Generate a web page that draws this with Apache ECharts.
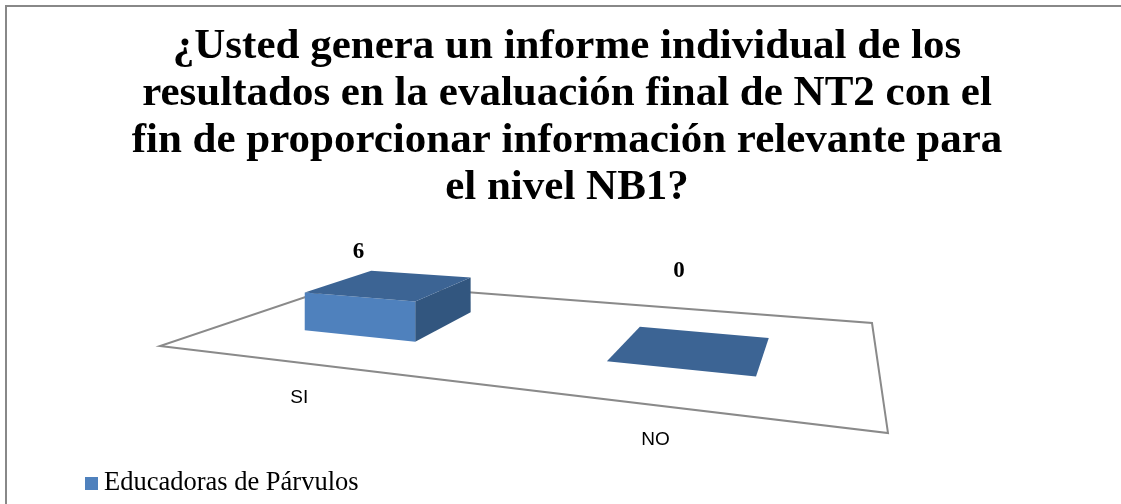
<!DOCTYPE html>
<html>
<head>
<meta charset="utf-8">
<script src="https://cdn.jsdelivr.net/npm/echarts@6/dist/echarts.min.js"></script>
<style>html,body{margin:0;padding:0;background:#fff;}#c{width:1121px;height:504px;}</style>
</head>
<body>
<div id="c"></div>
<script>
// ---- data ----
const categories = ['SI', 'NO'];
const values = [6, 0];
const seriesName = 'Educadoras de Párvulos';
const titleLines = [
  '¿Usted genera un informe individual de los',
  'resultados en la evaluación final de NT2 con el',
  'fin de proporcionar información relevante para',
  'el nivel NB1?'
];

// ---- layout (perspective floor) ----
const F0 = [160, 346], F1 = [888, 433], B1 = [872, 323], B0 = [347, 283];
const BAR_MAX_PX = 40.5;   // pixel height of axis max at unit perspective scale
const V0 = 0.3, V1 = 0.7;  // bar depth range on floor
const BAR_RATIO = 0.4;     // bar width / category band
const LABEL_H = 87;        // label height above floor (px at unit scale)

const H = (function () {
  const [x0, y0] = F0, [x1, y1] = F1, [x2, y2] = B1, [x3, y3] = B0;
  const dx1 = x1 - x2, dx2 = x3 - x2, dx3 = x0 - x1 + x2 - x3;
  const dy1 = y1 - y2, dy2 = y3 - y2, dy3 = y0 - y1 + y2 - y3;
  const den = dx1 * dy2 - dx2 * dy1;
  const g = (dx3 * dy2 - dx2 * dy3) / den;
  const h = (dx1 * dy3 - dx3 * dy1) / den;
  return {
    a: x1 - x0 + g * x1, b: x3 - x0 + h * x3, c: x0,
    d: y1 - y0 + g * y1, e: y3 - y0 + h * y3, f: y0, g: g, h: h
  };
})();
function proj(u, v, hPx) {
  const w = H.g * u + H.h * v + 1;
  return [(H.a * u + H.b * v + H.c) / w, (H.d * u + H.e * v + H.f) / w - (hPx || 0) / w];
}

const chart = echarts.init(document.getElementById('c'), null, { renderer: 'canvas' });

function renderBar(params, api) {
  const cs = params.coordSys;
  const idx = api.value(0), val = api.value(1);
  const pt = api.coord([idx, val]);
  const band = api.size([1, 0])[0] / cs.width;
  const uc = (pt[0] - cs.x) / cs.width;
  const hPx = (cs.y + cs.height - pt[1]) / cs.height * BAR_MAX_PX;
  const u0 = uc - band * BAR_RATIO / 2, u1 = uc + band * BAR_RATIO / 2;
  const children = [];
  const bFL = proj(u0, V0), bFR = proj(u1, V0), bBR = proj(u1, V1), bBL = proj(u0, V1);
  const tFL = proj(u0, V0, hPx), tFR = proj(u1, V0, hPx), tBR = proj(u1, V1, hPx), tBL = proj(u0, V1, hPx);
  if (hPx > 0.5) {
    children.push({ type: 'polygon', shape: { points: [bFR, bBR, tBR, tFR] }, style: { fill: '#32567f' } });
    children.push({ type: 'polygon', shape: { points: [bFL, bFR, tFR, tFL] }, style: { fill: '#4f81bd' } });
    children.push({ type: 'polygon', shape: { points: [tFL, tFR, tBR, tBL] }, style: { fill: '#3c6494' } });
  } else {
    children.push({ type: 'polygon', shape: { points: [bFL, bFR, bBR, bBL] }, style: { fill: '#3c6494' } });
  }
  const lp = proj(uc, V0, LABEL_H);
  children.push({ type: 'text', x: lp[0], y: lp[1], style: {
    text: String(val), fill: '#000', font: 'bold 23px "Liberation Serif", "Times New Roman", serif',
    align: 'center', verticalAlign: 'middle' } });
  const cp = proj(uc, 0);
  children.push({ type: 'text', x: cp[0], y: cp[1] + 35, style: {
    text: categories[idx], fill: '#000', font: '19px "Liberation Sans", Arial, sans-serif',
    align: 'center', verticalAlign: 'middle' } });
  return { type: 'group', children: children };
}

function renderFloor() {
  return { type: 'polygon', shape: { points: [proj(0, 0), proj(1, 0), proj(1, 1), proj(0, 1)] },
    style: { fill: '#fff', stroke: '#8a8a8a', lineWidth: 2 } };
}

chart.setOption({
  animation: false,
  backgroundColor: '#fff',
  title: {
    text: titleLines.join('\n'),
    left: 562, top: 18, textAlign: 'center',
    textStyle: { fontFamily: '"Liberation Serif", "Times New Roman", serif', fontWeight: 'bold',
      fontSize: 43, lineHeight: 47, color: '#000', align: 'center' }
  },
  legend: {
    data: [seriesName], left: 80, top: 465, icon: 'rect', itemWidth: 13, itemHeight: 13,
    textStyle: { fontFamily: '"Liberation Serif", "Times New Roman", serif', fontSize: 26.5, color: '#000', padding: [0, 0, 0, 1] }
  },
  grid: { left: 100, top: 100, width: 500, height: 200, show: false },
  xAxis: { type: 'category', data: categories, show: false },
  yAxis: { type: 'value', min: 0, max: 6, show: false },
  graphic: [{ type: 'rect', shape: { x: 6, y: 6, width: 1300, height: 700 },
    style: { fill: 'none', stroke: '#888', lineWidth: 2 }, silent: true, z: 100 }],
  series: [
    { type: 'custom', name: '_floor', data: [[0, 0]], renderItem: renderFloor, z: 1, silent: true },
    { type: 'custom', name: seriesName, color: '#4f81bd', itemStyle: { color: '#4f81bd' },
      data: categories.map((c, i) => [i, values[i]]), renderItem: renderBar, z: 2 }
  ]
});
</script>
</body>
</html>
